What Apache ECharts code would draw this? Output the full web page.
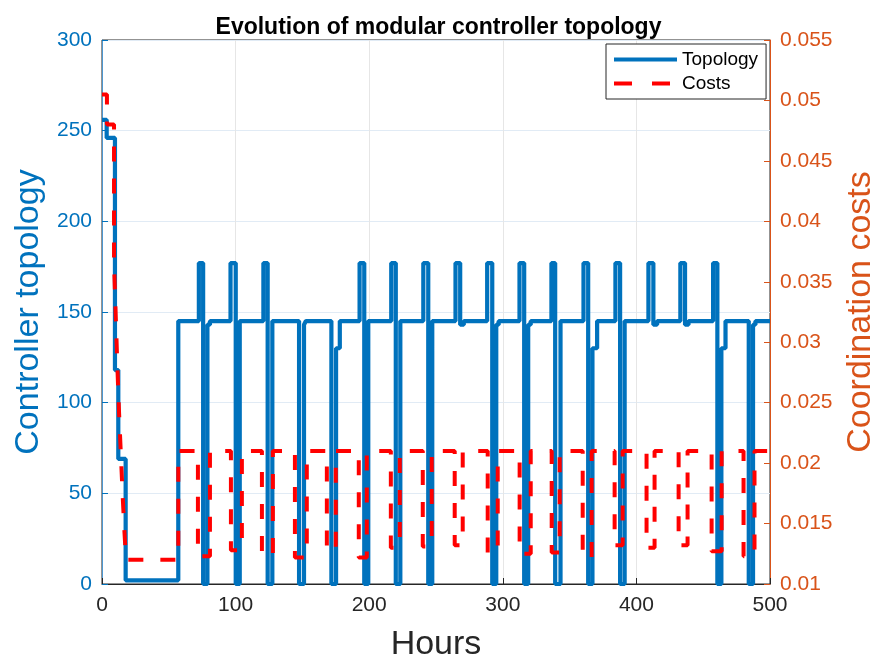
<!DOCTYPE html>
<html>
<head>
<meta charset="utf-8">
<title>Evolution of modular controller topology</title>
<script src="https://cdn.jsdelivr.net/npm/echarts@6/dist/echarts.min.js"></script>
<style>
html, body { margin: 0; padding: 0; background: #fff; }
#main { width: 877px; height: 657px; }
</style>
</head>
<body>
<div id="main"></div>
<script>
// topology: hour where it changes, and the value held from there on
var topoHours = [0, 3.5, 9.7, 12.2, 17.7, 57.1,
    72.5, 75.7, 78.9, 80.8, 96.2, 100.1, 103.1, 120.8, 124.0, 127.5,
    147.5, 151.2, 152.6, 171.7, 175.2, 178.0, 192.8, 196.3, 199.3,
    216.5, 219.9, 223.3, 240.5, 244.2, 247.2, 264.6, 268.1, 270.8,
    288.3, 292.1, 295.1, 296.9, 312.5, 316.0, 319.0, 320.9,
    336.4, 339.2, 343.2, 360.4, 363.9, 367.1, 370.6, 384.3, 387.8, 391.2,
    409.0, 412.7, 415.5, 432.9, 436.4, 439.0, 457.4, 460.6, 463.6, 466.7,
    484.1, 487.3, 489.1, 500];
var topoValues = [256, 246, 118, 69, 2, 145,
    177, 0, 143, 145, 177, 0, 145, 177, 0, 145,
    0, 143, 145, 0, 130, 145, 177, 0, 145,
    177, 0, 145, 177, 0, 145, 177, 143, 145,
    177, 0, 143, 145, 177, 0, 143, 145,
    177, 0, 145, 177, 0, 130, 145, 177, 0, 145,
    177, 143, 145, 177, 143, 145, 177, 0, 130, 145,
    0, 143, 145, 145];

// costs during start-up
var costStartHours = [0, 3.7, 9.0, 10.4, 11.5, 12.8, 14.2, 15.6, 16.7, 18.0];
var costStartValues = [0.0505, 0.048, 0.0365, 0.0318, 0.028, 0.0241, 0.0205, 0.017, 0.0145, 0.012];
var costRiseHour = 57.1;
var costLevel = 0.021;
// cost dips: start hour, end hour, lowest value
var dipStart = [71.8, 96.5, 119.7, 144.4, 168.3, 192.2, 216.2, 240.1, 264.0,
    288.7, 312.6, 336.6, 359.8, 383.7, 407.6, 431.6, 456.3, 480.2];
var dipEnd = [80.8, 104.7, 127.9, 153.3, 175.0, 198.2, 222.9, 246.8, 270.0,
    296.2, 320.9, 342.6, 366.5, 389.7, 413.6, 438.3, 463.8, 488.4];
var dipLow = [0.0123, 0.0128, 0.0124, 0.0122, 0.0128, 0.0122, 0.013, 0.0131, 0.0132,
    0.0126, 0.0125, 0.0126, 0.0122, 0.0132, 0.013, 0.0132, 0.0127, 0.0123];

var topoData = topoHours.map(function (h, i) { return [h, topoValues[i]]; });
var costData = costStartHours.map(function (h, i) { return [h, costStartValues[i]]; });
costData.push([costRiseHour, costLevel]);
for (var i = 0; i < dipStart.length; i++) {
    costData.push([dipStart[i], dipLow[i]]);
    costData.push([dipEnd[i], costLevel]);
}
costData.push([500, costLevel]);

var font = 'Liberation Sans, Arial, Helvetica, sans-serif';
var chart = echarts.init(document.getElementById('main'));

chart.setOption({
    animation: false,
    textStyle: { fontFamily: font },
    title: {
        text: 'Evolution of modular controller topology',
        left: 'center',
        top: 16,
        padding: 0,
        textStyle: { fontSize: 23, fontWeight: 'bold', color: '#000' }
    },
    legend: {
        orient: 'vertical',
        left: 606,
        top: 44,
        padding: [6, 8, 6, 6],
        itemGap: 5,
        itemWidth: 63,
        itemHeight: 20,
        backgroundColor: '#fff',
        borderColor: '#262626',
        borderWidth: 1,
        borderRadius: 0,
        itemStyle: { opacity: 0 },
        textStyle: { fontSize: 19, color: '#000' },
        data: [
            { name: 'Topology', lineStyle: { width: 4 } },
            { name: 'Costs', lineStyle: { width: 4, type: [18, 20] } }
        ]
    },
    grid: {
        left: 102, right: 107, top: 40, bottom: 73,
        show: true,
        borderColor: '#262626',
        borderWidth: 1,
        backgroundColor: '#fff',
        outerBoundsMode: 'none'
    },
    xAxis: {
        type: 'value',
        min: 0, max: 500, interval: 100,
        name: 'Hours',
        nameLocation: 'middle',
        nameGap: 44,
        nameTextStyle: { fontSize: 34, color: '#262626' },
        axisLine: { lineStyle: { color: '#262626' } },
        axisTick: { inside: true, length: 6, lineStyle: { color: '#262626' } },
        axisLabel: { fontSize: 21, color: '#262626', margin: 11 },
        splitLine: { show: true, lineStyle: { color: '#e6e6e6' } }
    },
    yAxis: [{
        type: 'value',
        position: 'left',
        min: 0, max: 300, interval: 50,
        name: 'Controller topology',
        nameLocation: 'middle',
        nameGap: 54,
        nameRotate: 90,
        nameTextStyle: { fontSize: 34, color: '#0072BD' },
        axisLine: { show: true, lineStyle: { color: '#4d97d0' } },
        axisTick: { show: true, inside: true, length: 6, lineStyle: { color: '#0072BD' } },
        axisLabel: { fontSize: 21, color: '#0072BD', margin: 10 },
        splitLine: { show: true, lineStyle: { color: '#e1ebf5' } }
    }, {
        type: 'value',
        position: 'right',
        min: 0.01, max: 0.055, interval: 0.005,
        name: 'Coordination costs',
        nameLocation: 'middle',
        nameGap: 74,
        nameRotate: 90,
        nameTextStyle: { fontSize: 34, color: '#D95319' },
        axisLine: { show: true, lineStyle: { color: '#D95319' } },
        axisTick: { show: true, inside: true, length: 6, lineStyle: { color: '#D95319' } },
        axisLabel: { fontSize: 21, color: '#D95319', margin: 10 },
        splitLine: { show: false }
    }],
    series: [{
        name: 'Topology',
        type: 'line',
        step: 'end',
        symbol: 'none',
        data: topoData,
        itemStyle: { color: '#0072BD' },
        lineStyle: { color: '#0072BD', width: 4.2 },
        z: 2
    }, {
        name: 'Costs',
        type: 'line',
        step: 'end',
        symbol: 'none',
        yAxisIndex: 1,
        data: costData,
        itemStyle: { color: '#FF0000' },
        lineStyle: { color: '#FF0000', width: 4, type: [15, 17] },
        z: 3
    }]
});
</script>
</body>
</html>
